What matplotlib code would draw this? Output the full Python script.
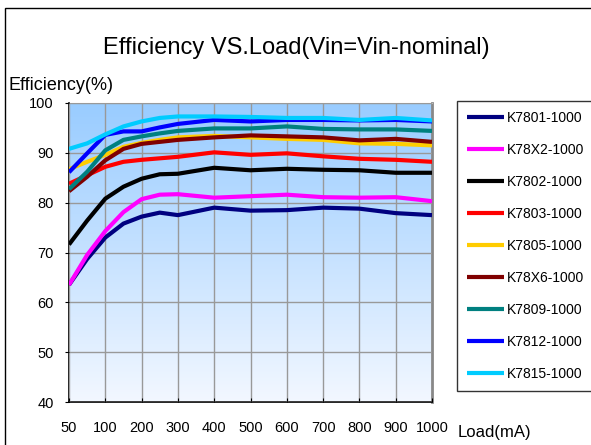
import numpy as np
import matplotlib
matplotlib.use("Agg")
import matplotlib.pyplot as plt
from matplotlib.patches import Rectangle

plt.rcParams['font.family'] = ['Liberation Sans', 'DejaVu Sans']

# load points (mA) and axis categories
loads = [50, 75, 100, 150, 200, 250, 300, 400, 500, 600, 700, 800, 900, 1000]
categories = ['50', '100', '200', '300', '400', '500', '600', '700', '800', '900', '1000']

k7801 = [63.5, 68.7, 73.0, 75.8, 77.2, 78.0, 77.5, 79.0, 78.4, 78.5, 79.0, 78.8, 77.9, 77.5]
k78x2 = [63.5, 69.5, 74.3, 78.1, 80.7, 81.6, 81.7, 81.0, 81.3, 81.6, 81.1, 81.0, 81.1, 80.3]
k7802 = [71.6, 76.4, 80.8, 83.2, 84.8, 85.7, 85.8, 87.0, 86.5, 86.8, 86.6, 86.5, 86.0, 86.0]
k7803 = [83.8, 85.5, 87.2, 88.2, 88.6, 88.9, 89.2, 90.1, 89.6, 89.9, 89.3, 88.8, 88.6, 88.2]
k7805 = [86.7, 88.2, 89.6, 91.2, 92.0, 92.6, 93.1, 93.4, 93.1, 92.8, 92.6, 91.9, 91.8, 91.5]
k78x6 = [82.3, 85.2, 88.5, 90.8, 91.8, 92.2, 92.6, 93.1, 93.5, 93.3, 93.1, 92.5, 92.8, 92.2]
k7809 = [82.7, 86.2, 90.5, 92.6, 93.3, 93.9, 94.4, 94.9, 94.9, 95.3, 94.8, 94.7, 94.7, 94.4]
k7812 = [86.1, 89.9, 93.6, 94.3, 94.3, 95.1, 95.8, 96.6, 96.3, 96.6, 96.6, 96.5, 96.6, 96.3]
k7815 = [90.8, 91.9, 93.7, 95.3, 96.3, 97.0, 97.3, 97.3, 97.2, 97.0, 97.0, 96.6, 97.0, 96.5]

series = [
    ('K7801-1000', k7801, '#000080'),
    ('K78X2-1000', k78x2, '#FF00FF'),
    ('K7802-1000', k7802, '#000000'),
    ('K7803-1000', k7803, '#FF0000'),
    ('K7805-1000', k7805, '#FFCC00'),
    ('K78X6-1000', k78x6, '#800000'),
    ('K7809-1000', k7809, '#008080'),
    ('K7812-1000', k7812, '#0000FF'),
    ('K7815-1000', k7815, '#00CCFF'),
]


def load_to_pos(load):
    # category axis: 50 -> 0, 100 -> 1, then one category per 100 mA
    if load <= 100:
        return (load - 50) / 50.0
    return 1 + (load - 100) / 100.0


xpos = [load_to_pos(v) for v in loads]

W, H = 591, 445
fig = plt.figure(figsize=(W / 100, H / 100), dpi=100)
ax = fig.add_axes([69 / W, 1 - 402 / H, (432 - 69) / W, (402 - 103) / H])

# gradient background
grad = np.linspace(0, 1, 256).reshape(-1, 1)
top = np.array([0.60, 0.80, 1.00])
bot = np.array([0.95, 0.97, 1.00])
img = top + (bot - top) * grad[:, :, None] ** 1.0
ax.imshow(img, extent=[0, 10, 40, 100], aspect='auto', origin='upper', zorder=0)

for label, vals, color in series:
    ax.plot(xpos, vals, color=color, linewidth=3.0, label=label, zorder=3,
            solid_joinstyle='round', solid_capstyle='butt')

ax.set_xlim(0, 10)
ax.set_ylim(40, 100)
ax.set_xticks(range(len(categories)))
ax.set_xticklabels(categories)
ax.set_yticks(range(40, 101, 10))
ax.grid(True, color='#999999', linewidth=1.0, zorder=1)
ax.set_axisbelow(False)
for gl in ax.get_xgridlines() + ax.get_ygridlines():
    gl.set_zorder(1)

ax.tick_params(axis='x', direction='in', length=3, pad=14, labelsize=10.5, color='black')
ax.tick_params(axis='y', direction='out', length=3, pad=8, labelsize=10.5, color='black')
ax.spines['left'].set_color('black')
ax.spines['bottom'].set_color('black')
ax.spines['left'].set_linewidth(1.2)
ax.spines['bottom'].set_linewidth(1.2)
ax.spines['top'].set_color('#BBBBBB')
ax.spines['right'].set_color('#888888')
ax.spines['right'].set_linewidth(2.0)

fig.text(296 / W, 1 - 48 / H, 'Efficiency VS.Load(Vin=Vin-nominal)', fontsize=17,
         ha='center', va='center')
fig.text(9 / W, 1 - 85 / H, 'Efficiency(%)', fontsize=13, ha='left', va='center')
fig.text(458 / W, 1 - 433 / H, 'Load(mA)', fontsize=12, ha='left', va='center')

leg = ax.legend(loc='upper left', bbox_to_anchor=(457 / W, 1 - 101 / H),
                bbox_transform=fig.transFigure, fontsize=10, frameon=True,
                fancybox=False, shadow=False, handlelength=2.7, handletextpad=0.2,
                labelspacing=1.30, borderpad=0.7, borderaxespad=0)
leg.get_frame().set_edgecolor('black')
leg.get_frame().set_linewidth(1.0)
for line in leg.get_lines():
    line.set_linewidth(3.0)

# outer chart border (cropped at right/bottom)
fig.patches.append(Rectangle((5 / W, -0.1), 1.2, 1.1 - 8 / H, transform=fig.transFigure,
                             fill=False, edgecolor='black', linewidth=1.0))

fig.savefig('out.png', dpi=100)
